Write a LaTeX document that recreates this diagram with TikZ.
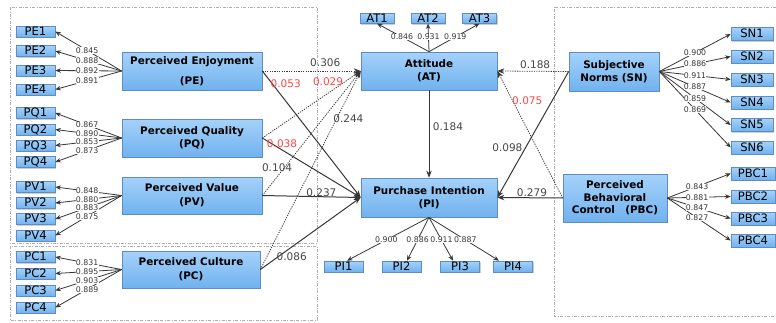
\documentclass[tikz,border=0pt]{standalone}
\usepackage{fontspec}
\setmainfont{DejaVu Sans}
\usetikzlibrary{arrows.meta,calc,shadows}
\definecolor{boxtop}{RGB}{165,210,250}
\definecolor{boxbot}{RGB}{112,178,238}
\definecolor{boxline}{RGB}{95,140,195}
\definecolor{arr}{RGB}{55,55,55}
\definecolor{coef}{RGB}{70,70,70}
\definecolor{sigred}{RGB}{255,70,70}
\definecolor{grp}{RGB}{175,175,175}
\begin{document}
\begin{tikzpicture}[x=1pt,y=-1pt,
  shadowed/.style={drop shadow={shadow xshift=1.3pt,shadow yshift=-1.3pt,opacity=0.35,fill=black!55}},
  construct/.style={draw=boxline,line width=0.7pt,top color=boxtop,bottom color=boxbot,
    align=center,font=\fontsize{10.4}{12.5}\selectfont\bfseries,inner sep=0pt,shadowed},
  indicator/.style={draw=boxline,line width=0.6pt,top color=boxtop,bottom color=boxbot,
    font=\fontsize{11.6}{12}\selectfont,inner sep=0pt,text height=8.4pt,text depth=0.5pt,shadowed},
  leftind/.style={indicator,minimum width=39pt,minimum height=11pt},
  rightind/.style={indicator,minimum width=42pt,minimum height=13pt},
  atind/.style={indicator,minimum width=34pt,minimum height=9.5pt},
  load/.style={draw=arr,line width=0.8pt,-{Stealth[length=5.5pt,width=4.5pt]}},
  lnum/.style={font=\fontsize{7.8}{8}\selectfont,text=arr,fill=white,inner sep=0.3pt},
  solidp/.style={draw=arr,line width=1pt,-{Stealth[length=7pt,width=5.5pt]}},
  dotp/.style={draw=arr,line width=0.8pt,dash pattern=on 1.2pt off 1.2pt,-{Stealth[length=7pt,width=5.5pt]}},
  coefl/.style={font=\fontsize{10.5}{12}\selectfont,text=coef,inner sep=0pt},
  coefr/.style={coefl,text=sigred},
  group/.style={draw=grp,line width=0.6pt,dash pattern=on 3pt off 1.5pt on 0.8pt off 1.5pt}
]
\useasboundingbox (0,0) rectangle (776,322);
\fill[white] (0,0) rectangle (776,322);

% group frames
\draw[group] (10,7) rectangle (317,243);
\draw[group] (10,246) rectangle (317,320);
\draw[group] (776,7) -- (554,7) -- (554,316) -- (776,316);

% constructs
\node[construct,minimum width=140pt,minimum height=38pt] (PE) at (192,71) {Perceived Enjoyment\\[7pt](PE)};
\node[construct,minimum width=140pt,minimum height=38pt] (PQ) at (192,138) {Perceived Quality\\(PQ)};
\node[construct,minimum width=140pt,minimum height=37pt] (PV) at (192,195.5) {Perceived Value\\[1.5pt](PV)};
\node[construct,minimum width=138pt,minimum height=37pt] (PC) at (191,269.5) {Perceived Culture\\[1.5pt](PC)};
\node[construct,minimum width=136pt,minimum height=38pt] (AT) at (429,71) {Attitude\\[0.5pt](AT)};
\node[construct,minimum width=136pt,minimum height=39pt] (PI) at (429,197.5) {Purchase Intention\\(PI)};
\node[construct,minimum width=90pt,minimum height=39pt] (SN) at (614,71.5) {Subjective\\[0.5pt]Norms (SN)};
\node[construct,minimum width=104pt,minimum height=48pt] (PBC) at (615,198) {Perceived\\Behavioral\\Control\quad(PBC)};

% indicators
\foreach \n/\y in {PE1/31.5,PE2/51,PE3/70.5,PE4/89.5,PQ1/113,PQ2/129.5,PQ3/145.5,PQ4/162,
  PV1/187,PV2/203,PV3/219,PV4/235.5,PC1/257,PC2/273.5,PC3/290.5,PC4/307.5}
  \node[leftind] (\n) at (35.5,\y) {\n};
\foreach \n/\y in {SN1/34,SN2/56.5,SN3/79.5,SN4/102.5,SN5/125,SN6/147.5}
  \node[rightind] (\n) at (752,\y) {\n};
\foreach \n/\y in {PBC1/173.5,PBC2/196.5,PBC3/218.5,PBC4/240.5}
  \node[rightind,minimum width=44pt] (\n) at (753,\y) {\n};
\foreach \n/\x in {AT1/377,AT2/428,AT3/479.5}
  \node[atind] (\n) at (\x,18.5) {\n};
\foreach \n/\x in {PI1/343.5,PI2/401.5,PI3/460,PI4/513}
  \node[leftind] (\n) at (\x,266.5) {\n};

% measurement arrows
\foreach \c/\i in {PE/PE1,PE/PE2,PE/PE3,PE/PE4,PQ/PQ1,PQ/PQ2,PQ/PQ3,PQ/PQ4,
  PV/PV1,PV/PV2,PV/PV3,PV/PV4,PC/PC1,PC/PC2,PC/PC3,PC/PC4}
  \draw[load] (\c.west) -- (\i.east);
\foreach \c/\i in {SN/SN1,SN/SN2,SN/SN3,SN/SN4,SN/SN5,SN/SN6,PBC/PBC1,PBC/PBC2,PBC/PBC3,PBC/PBC4}
  \draw[load] (\c.east) -- (\i.west);
\foreach \i in {AT1,AT2,AT3}
  \draw[load] (AT.north) -- (\i.south);
\draw[load] (PI.south) -- ($(PI1.north)+(3.5,0)$);
\draw[load] (PI.south) -- ($(PI2.north)+(5.5,0)$);
\draw[load] (PI.south) -- ($(PI3.north)+(-7,0)$);
\draw[load] (PI.south) -- ($(PI4.north)+(-14,0)$);

% loading labels
\foreach \c/\i/\v in {PE/PE1/0.845,PE/PE2/0.888,PE/PE3/0.892,PE/PE4/0.891,
  PQ/PQ1/0.867,PQ/PQ2/0.890,PQ/PQ3/0.853,PQ/PQ4/0.873,
  PV/PV1/0.848,PV/PV2/0.880,PV/PV3/0.883,PV/PV4/0.875,
  PC/PC1/0.831,PC/PC2/0.895,PC/PC3/0.903,PC/PC4/0.889}
  \path (\c.west) -- node[lnum,pos=0.52] {\v} (\i.east);
\foreach \i/\v in {SN1/0.900,SN2/0.886,SN3/0.911,SN4/0.887,SN5/0.859,SN6/0.869}
  \path (SN.east) -- node[lnum,pos=0.5] {\v} (\i.west);
\foreach \i/\v in {PBC1/0.843,PBC2/0.881,PBC3/0.847,PBC4/0.827}
  \path (PBC.east) -- node[lnum,pos=0.47] {\v} (\i.west);
\foreach \i/\v in {AT1/0.846,AT2/0.931,AT3/0.919}
  \path (AT.north) -- node[lnum,pos=0.52] {\v} (\i.south);
\path (PI.south) -- node[lnum,pos=0.52] {0.900} ($(PI1.north)+(3.5,0)$);
\path (PI.south) -- node[lnum,pos=0.52] {0.886} ($(PI2.north)+(5.5,0)$);
\path (PI.south) -- node[lnum,pos=0.52] {0.911} ($(PI3.north)+(-7,0)$);
\path (PI.south) -- node[lnum,pos=0.52] {0.887} ($(PI4.north)+(-14,0)$);

% structural paths
\draw[dotp] (PE.east) -- node[coefl,pos=0.64,yshift=8pt] {0.306} (AT.west);
\draw[solidp] (PE.east) -- node[coefr,pos=0.1,xshift=13.5pt] {0.053} (PI.west);
\draw[dotp] (PQ.east) -- node[coefr,pos=0.75,xshift=-8pt,yshift=6pt] {0.029} (AT.west);
\draw[solidp] (PQ.east) -- node[coefr,pos=0.2,yshift=6pt] {0.038} (PI.west);
\draw[dotp] (PV.east) -- node[coefl,pos=0.15,yshift=9pt] {0.104} (AT.west);
\draw[solidp] (PV.east) -- node[coefl,pos=0.6,yshift=4pt] {0.237} (PI.west);
\draw[dotp] (PC.east) -- node[coefl,pos=0.758,xshift=12pt] {0.244} (AT.west);
\draw[solidp] (PC.east) -- node[coefl,pos=0.313,yshift=-10pt] {0.086} (PI.west);
\draw[solidp] (AT.south) -- node[coefl,pos=0.42,xshift=19pt] {0.184} (PI.north);
\draw[dotp] (SN.west) -- node[coefl,pos=0.47,yshift=7pt] {0.188} (AT.east);
\draw[solidp] (SN.west) -- node[coefl,pos=0.607,xshift=-18pt] {0.098} (PI.east);
\draw[dotp] (PBC.west) -- node[coefr,pos=0.764,xshift=14.5pt] {0.075} (AT.east);
\draw[solidp] (PBC.west) -- node[coefl,pos=0.47,yshift=5pt] {0.279} (PI.east);
\end{tikzpicture}
\end{document}
